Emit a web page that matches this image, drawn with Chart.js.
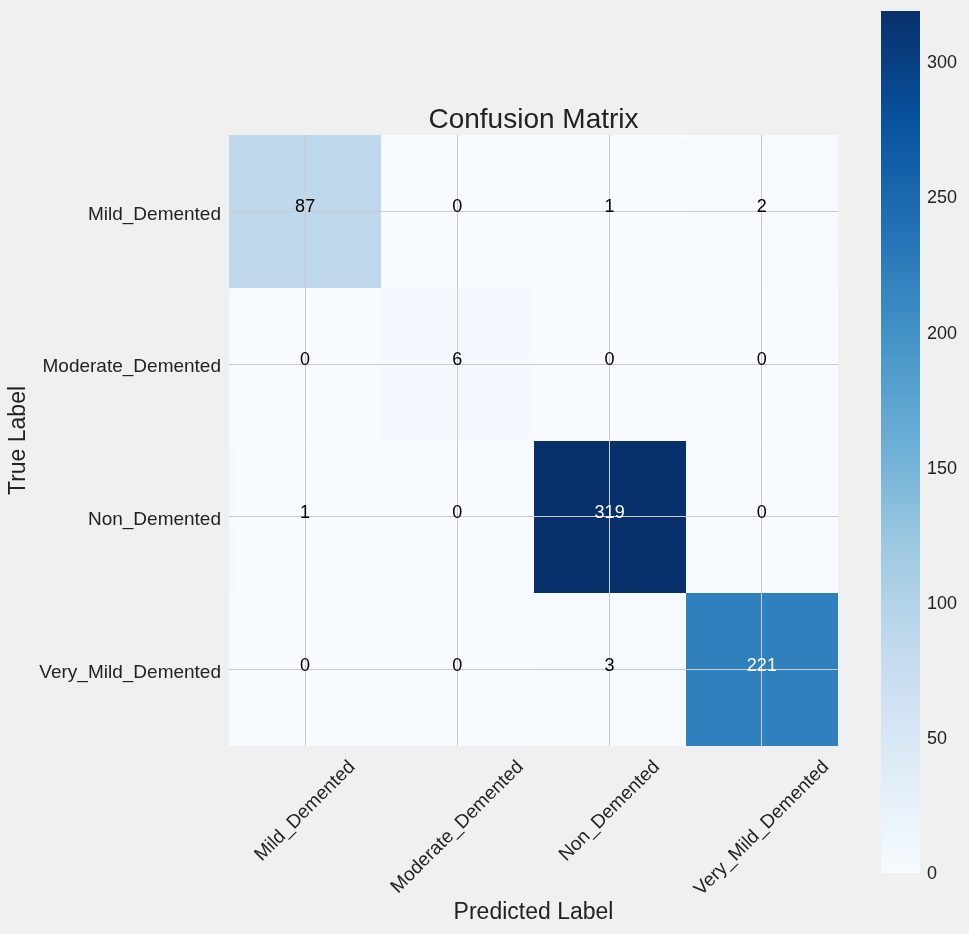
<!DOCTYPE html>
<html lang="en">
<head>
<meta charset="UTF-8">
<title>Confusion Matrix</title>
<script src="https://cdn.jsdelivr.net/npm/chart.js"></script>
<style>
    * { margin: 0; padding: 0; box-sizing: border-box; }
    body {
        background: #f0f0f0;
        width: 969px;
        height: 934px;
        overflow: hidden;
        position: relative;
    }
    canvas { position: absolute; top: 0; }
    #matrix { left: 0; }
    #colorbar { left: 860px; }
</style>
</head>
<body>
<canvas id="matrix" width="969" height="934"></canvas>
<canvas id="colorbar" width="109" height="934"></canvas>

<script>
    // Data
    const classNames = ['Mild_Demented', 'Moderate_Demented', 'Non_Demented', 'Very_Mild_Demented'];
    const mildRow = [87, 0, 1, 2];
    const moderateRow = [0, 6, 0, 0];
    const nonRow = [1, 0, 319, 0];
    const veryMildRow = [0, 0, 3, 221];
    const matrixRows = [mildRow, moderateRow, nonRow, veryMildRow];
    const colorbarTicks = [0, 50, 100, 150, 200, 250, 300];

    // Style
    const FONT = "'Liberation Sans', Arial, sans-serif";
    const TEXT = '#222';
    const GRID = '#cbcbcb';
    // matplotlib "Blues"
    const BLUES = [
        [247, 251, 255], [222, 235, 247], [198, 219, 239],
        [158, 202, 225], [107, 174, 214], [66, 146, 198],
        [33, 113, 181], [8, 81, 156], [8, 48, 107]
    ];

    const vmax = Math.max(...matrixRows.flat());

    function blues(t) {
        t = Math.min(1, Math.max(0, t));
        const pos = t * (BLUES.length - 1);
        const i = Math.min(BLUES.length - 2, Math.floor(pos));
        const f = pos - i;
        const c = BLUES[i].map((a, k) => Math.round(a + (BLUES[i + 1][k] - a) * f));
        return `rgb(${c[0]}, ${c[1]}, ${c[2]})`;
    }

    const cells = [];
    matrixRows.forEach((row, r) => row.forEach((v, c) => cells.push({ x: c, y: r, v: v })));

    const fixedTicks = scale => { scale.ticks = classNames.map((_, i) => ({ value: i })); };

    // cells under the grid, texts on top
    const heatmapPlugin = {
        id: 'heatmap',
        beforeDraw(chart) {
            const { ctx } = chart;
            const xs = chart.scales.x, ys = chart.scales.y;
            ctx.save();
            chart.data.datasets[0].data.forEach(p => {
                const l = Math.round(xs.getPixelForValue(p.x - 0.5));
                const r = Math.round(xs.getPixelForValue(p.x + 0.5));
                const t = Math.round(ys.getPixelForValue(p.y - 0.5));
                const b = Math.round(ys.getPixelForValue(p.y + 0.5));
                ctx.fillStyle = blues(p.v / vmax);
                ctx.fillRect(l, t, r - l, b - t);
            });
            ctx.restore();
        },
        afterDraw(chart) {
            const { ctx, chartArea } = chart;
            const xs = chart.scales.x, ys = chart.scales.y;
            ctx.save();

            // cell values
            ctx.font = `18px ${FONT}`;
            ctx.textAlign = 'center';
            ctx.textBaseline = 'alphabetic';
            chart.data.datasets[0].data.forEach(p => {
                ctx.fillStyle = p.v > vmax / 2 ? '#ffffff' : '#000000';
                ctx.fillText(String(p.v), xs.getPixelForValue(p.x), ys.getPixelForValue(p.y) + 1);
            });

            // rotated x tick labels, box centred on the tick
            ctx.font = `19px ${FONT}`;
            ctx.fillStyle = TEXT;
            ctx.textBaseline = 'middle';
            const h = 19 * 0.9;
            classNames.forEach((name, i) => {
                const w = ctx.measureText(name).width;
                const d = (w + h) / Math.SQRT2;
                ctx.save();
                ctx.translate(xs.getPixelForValue(i), chartArea.bottom + 12 + d / 2);
                ctx.rotate(-Math.PI / 4);
                ctx.fillText(name, 0, 0);
                ctx.restore();
            });

            // title centred over the matrix
            ctx.font = `28px ${FONT}`;
            ctx.textBaseline = 'alphabetic';
            ctx.fillText('Confusion Matrix', (chartArea.left + chartArea.right) / 2, chartArea.top - 7);
            ctx.restore();
        }
    };

    new Chart(document.getElementById('matrix'), {
        type: 'scatter',
        data: {
            datasets: [{ data: cells, pointRadius: 0, pointHoverRadius: 0 }]
        },
        options: {
            responsive: false,
            animation: false,
            events: [],
            layout: { padding: { top: 135, right: 131, left: 0, bottom: 0 } },
            plugins: { legend: { display: false }, tooltip: { enabled: false } },
            scales: {
                x: {
                    type: 'linear',
                    min: -0.5,
                    max: 3.5,
                    afterBuildTicks: fixedTicks,
                    afterFit: s => { s.height = 188; },
                    ticks: { display: false },
                    grid: { color: GRID, lineWidth: 1, drawTicks: false },
                    border: { display: false },
                    title: {
                        display: true,
                        text: 'Predicted Label',
                        color: TEXT,
                        font: { family: FONT, size: 23 },
                        padding: { bottom: 8 }
                    }
                },
                y: {
                    type: 'linear',
                    reverse: true,
                    min: -0.5,
                    max: 3.5,
                    afterBuildTicks: fixedTicks,
                    afterFit: s => { s.width = 229; },
                    ticks: {
                        callback: v => classNames[v],
                        color: TEXT,
                        font: { family: FONT, size: 19 },
                        padding: 8,
                        labelOffset: 3
                    },
                    grid: { color: GRID, lineWidth: 1, drawTicks: false },
                    border: { display: false },
                    title: {
                        display: true,
                        text: 'True Label',
                        color: TEXT,
                        font: { family: FONT, size: 23 },
                        padding: { top: 5 }
                    }
                }
            }
        },
        plugins: [heatmapPlugin]
    });

    // Colorbar
    const gradientPlugin = {
        id: 'gradient',
        beforeDraw(chart) {
            const { ctx, chartArea } = chart;
            const ys = chart.scales.y;
            const y0 = ys.getPixelForValue(0), y1 = ys.getPixelForValue(vmax);
            const grad = ctx.createLinearGradient(0, y0, 0, y1);
            BLUES.forEach((c, i) => grad.addColorStop(i / (BLUES.length - 1), `rgb(${c[0]}, ${c[1]}, ${c[2]})`));
            ctx.save();
            ctx.fillStyle = grad;
            ctx.fillRect(chartArea.left, y1, chartArea.right - chartArea.left, y0 - y1);
            ctx.restore();
        }
    };

    new Chart(document.getElementById('colorbar'), {
        type: 'scatter',
        data: { datasets: [{ data: [], pointRadius: 0 }] },
        options: {
            responsive: false,
            animation: false,
            events: [],
            layout: { padding: { top: 11, bottom: 61, left: 21, right: 0 } },
            plugins: { legend: { display: false }, tooltip: { enabled: false } },
            scales: {
                x: { display: false, min: 0, max: 1 },
                y: {
                    type: 'linear',
                    position: 'right',
                    min: 0,
                    max: vmax,
                    afterBuildTicks: s => { s.ticks = colorbarTicks.map(v => ({ value: v })); },
                    afterFit: s => { s.width = 49; s.paddingTop = 0; s.paddingBottom = 0; },
                    ticks: {
                        color: TEXT,
                        font: { family: FONT, size: 18 },
                        padding: 7,
                        labelOffset: 1
                    },
                    grid: { display: false, drawTicks: false },
                    border: { display: false }
                }
            }
        },
        plugins: [gradientPlugin]
    });
</script>
</body>
</html>
